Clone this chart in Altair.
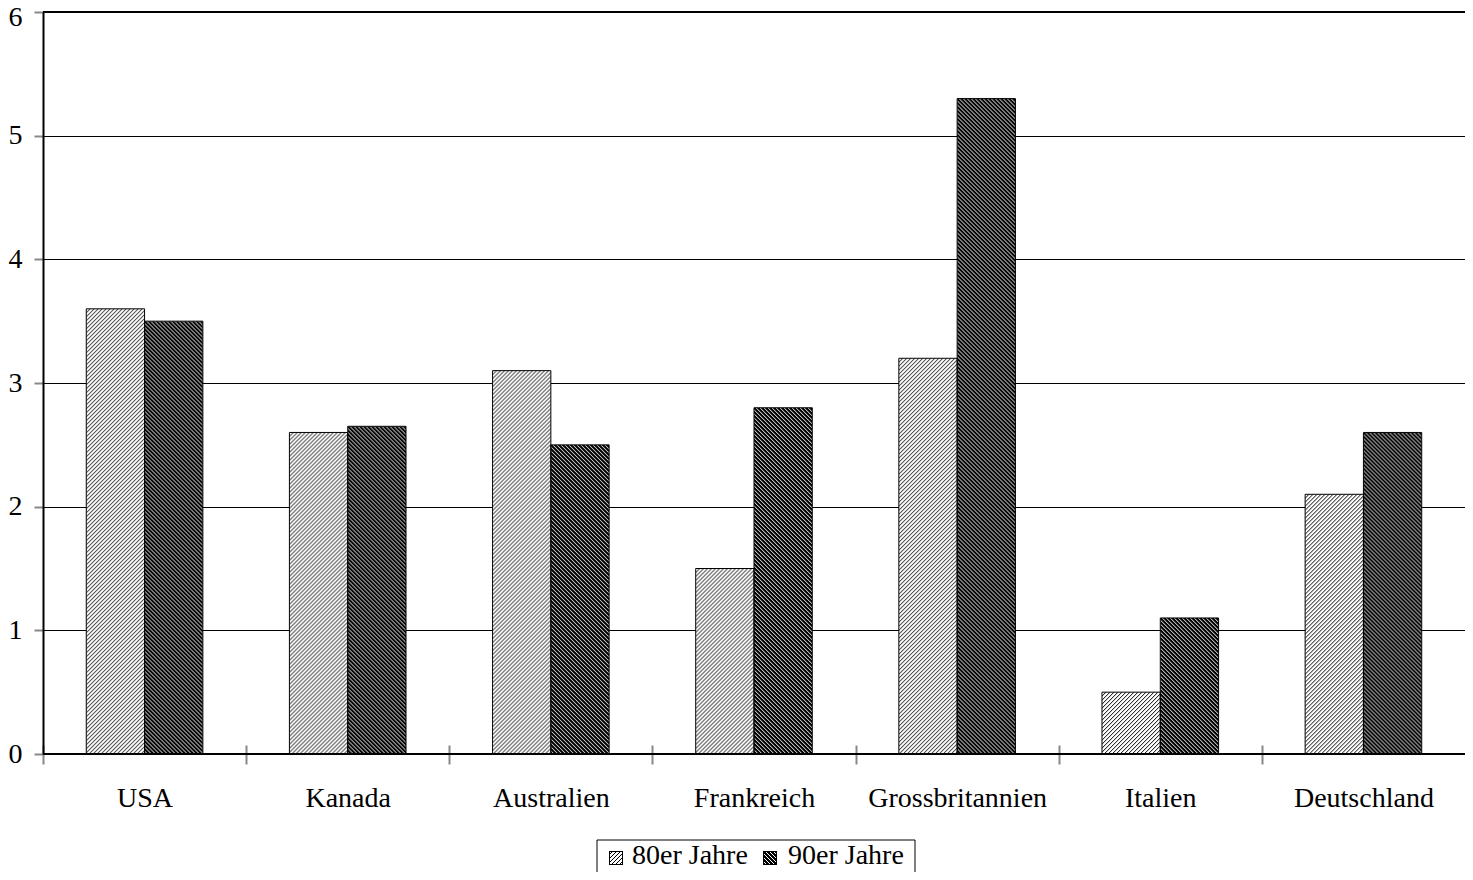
import base64
import altair as alt
import pandas as pd

# ---- data ----
countries = ["USA", "Kanada", "Australien", "Frankreich", "Grossbritannien", "Italien", "Deutschland"]
series = ["80er Jahre", "90er Jahre"]
values_80 = [3.6, 2.6, 3.1, 1.5, 3.2, 0.5, 2.1]
values_90 = [3.5, 2.65, 2.5, 2.8, 5.3, 1.1, 2.6]
y_ticks = [0, 1, 2, 3, 4, 5, 6]

# ---- layout ----
PLOT_W, PLOT_H = 1422, 742
PAD_IN = 0.426
Y_MAX = 6
STEP = PLOT_W / len(countries)
BAR_W = STEP * (1 - PAD_IN) / len(series)
FONT = "Liberation Serif"
FS = 28

# hatch textures (style), one per series
HATCH = {
    series[0]: ("M-1,1L1,-1M0,4L4,0M3,5L5,3", 1.0),   # //// light
    series[1]: ("M-1,3L1,5M0,0L4,4M3,-1L5,1", 1.5),   # \\\\ dark
}


def hatch_svg(w, h, s, border=False):
    d, sw = HATCH[s]
    if border:
        body = (f"<rect x='0.5' y='0.5' width='{w - 1:.3f}' height='{h - 1:.3f}' "
                f"fill='url(#p)' stroke='black' stroke-width='1'/>")
    else:
        body = "<rect width='100%' height='100%' fill='url(#p)'/>"
    svg = (
        f"<svg xmlns='http://www.w3.org/2000/svg' width='{w:.3f}' height='{h:.3f}' "
        f"viewBox='0 0 {w:.3f} {h:.3f}'><defs><pattern id='p' width='4' height='4' "
        f"patternUnits='userSpaceOnUse'><rect width='4' height='4' fill='white'/>"
        f"<path d='{d}' stroke='black' stroke-width='{sw}' shape-rendering='crispEdges'/>"
        f"</pattern></defs>{body}</svg>"
    )
    return "data:image/svg+xml;base64," + base64.b64encode(svg.encode()).decode()


def bar_url(value, s):
    return hatch_svg(BAR_W, max(value / Y_MAX * PLOT_H, 1.0), s)


rows = []
for c, a, b in zip(countries, values_80, values_90):
    rows.append({"country": c, "series": series[0], "value": a, "img": bar_url(a, series[0])})
    rows.append({"country": c, "series": series[1], "value": b, "img": bar_url(b, series[1])})
df = pd.DataFrame(rows)

x_enc = alt.X(
    "country:N",
    scale=alt.Scale(domain=countries, paddingInner=PAD_IN, paddingOuter=PAD_IN / 2),
    axis=alt.Axis(
        title=None, labelAngle=0, bandPosition=0,
        tickOffset=-PAD_IN * STEP / 2, labelOffset=PAD_IN * STEP / 2,
        tickSize=19, offset=-9, domain=False, tickColor="#888888", tickWidth=2,
        labelPadding=20, labelFont=FONT, labelFontSize=FS, labelColor="black",
        grid=False,
    ),
)
xo_enc = alt.XOffset("series:N", scale=alt.Scale(domain=series, paddingInner=0, paddingOuter=0))
y_enc = alt.Y(
    "value:Q",
    scale=alt.Scale(domain=[0, Y_MAX], nice=False, zero=True),
    axis=alt.Axis(
        title=None, values=y_ticks, grid=True, gridColor="black", gridWidth=1,
        tickColor="#888888", tickSize=9, tickWidth=2, domainColor="black",
        domainWidth=2, labelPadding=12, labelFont=FONT, labelFontSize=FS,
        labelColor="black",
        # keep the top label inside the page edge
        labelOffset={"condition": {"test": f"datum.value == {Y_MAX}", "value": 5}, "value": 0},
    ),
)

hatch_layer = (
    alt.Chart(df)
    .mark_image(aspect=False)
    .encode(x=x_enc, xOffset=xo_enc, y=y_enc, y2=alt.datum(0), url="img:N")
)

outline_layer = (
    alt.Chart(df)
    .mark_bar(fill="transparent", stroke="black", strokeWidth=1)
    .encode(x=x_enc, xOffset=xo_enc, y=y_enc)
)

frame = (
    alt.Chart(pd.DataFrame({"value": [0, Y_MAX]}))
    .mark_rule(color="black", strokeWidth=2)
    .encode(y=y_enc)
)

# ---- legend (box, hatched swatches, labels) below the plot ----
leg_df = pd.DataFrame({"series": series})
LEG_X0, LEG_X1, LEG_Y0 = 554, 872, 828
SW = 14
SWATCH_X = [566, 720]
LABEL_X = [589, 745]
SWATCH_Y = 839
LABEL_BASE = 852

legend_box = (
    alt.Chart(leg_df.head(1))
    .mark_rect(fill="white", stroke="black", strokeWidth=1)
    .encode(x=alt.value(LEG_X0), x2=alt.value(LEG_X1),
            y=alt.value(LEG_Y0), y2=alt.value(LEG_Y0 + 50))
)

legend_parts = []
for i, s in enumerate(series):
    one = alt.Chart(leg_df).transform_filter(alt.datum.series == s)
    legend_parts.append(
        one.mark_image(aspect=False).encode(
            x=alt.value(SWATCH_X[i]), x2=alt.value(SWATCH_X[i] + SW),
            y=alt.value(SWATCH_Y), y2=alt.value(SWATCH_Y + SW),
            url=alt.value(hatch_svg(SW, SW, s, border=True)),
        )
    )
    legend_parts.append(
        one.mark_text(align="left", baseline="alphabetic", font=FONT,
                      fontSize=FS, color="black")
        .encode(x=alt.value(LABEL_X[i]), y=alt.value(LABEL_BASE), text="series:N")
    )

chart = (
    alt.layer(hatch_layer, outline_layer, frame, legend_box, *legend_parts)
    .properties(
        width=PLOT_W, height=PLOT_H,
        autosize=alt.AutoSizeParams(type="none"),
        padding={"left": 35, "top": 4, "right": 0, "bottom": 118},
    )
    .configure_view(stroke=None)
    .configure(font=FONT, background="white")
)

chart.save("out.html", embed_options={"renderer": "svg", "actions": False})
